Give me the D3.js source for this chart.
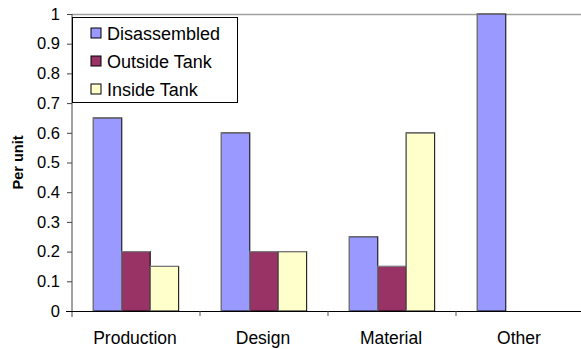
<!DOCTYPE html>
<html>
<head>
<meta charset="utf-8">
<script src="https://cdn.jsdelivr.net/npm/d3@7"></script>
<style>
  html, body { margin: 0; padding: 0; background: #fff; }
  svg { display: block; font-family: "Liberation Sans", Arial, sans-serif; }
</style>
</head>
<body>
<svg id="chart" width="581" height="349"></svg>
<script>
// Per-unit scores by category, one series per row
const categories = ["Production", "Design", "Material", "Other"];
const seriesNames = ["Disassembled", "Outside Tank", "Inside Tank"];
const disassembled = [0.65, 0.6, 0.25, 1.0];
const outsideTank = [0.2, 0.2, 0.15, 0];
const insideTank = [0.15, 0.2, 0.6, 0];
const yTicks = [0, 0.1, 0.2, 0.3, 0.4, 0.5, 0.6, 0.7, 0.8, 0.9, 1];
const seriesColors = ["#9999FF", "#993366", "#FFFFCC"];

const seriesValues = [disassembled, outsideTank, insideTank];

const svg = d3.select("#chart");
const plot = { left: 72, right: 584, top: 14, bottom: 311 };

// one slot per category; the three bars fill 3/4.5 of it (150% gap)
const x = d3.scaleBand()
  .domain(categories)
  .range([plot.left, plot.right])
  .paddingInner(0).paddingOuter(0);
const slot = x.bandwidth();
const barW = slot / 4.5;
const groupOffset = barW * 0.75;
const xs = d3.scaleBand()
  .domain(seriesNames)
  .range([groupOffset, groupOffset + 3 * barW]);

const y = d3.scaleLinear().domain([0, 1]).range([plot.bottom, plot.top]);

// top border of the plot area
svg.append("line")
  .attr("x1", plot.left).attr("x2", 581)
  .attr("y1", plot.top + 0.5).attr("y2", plot.top + 0.5)
  .attr("stroke", "#a0a0a0").attr("stroke-width", 1.5);

// bars
categories.forEach((cat, ci) => {
  seriesValues.forEach((vals, si) => {
    const v = vals[ci];
    if (!v) return;
    const bx = x(cat) + xs(seriesNames[si]);
    const by = y(v);
    const h = y(0) - by;
    svg.append("rect")
      .attr("x", bx).attr("y", by)
      .attr("width", barW).attr("height", h)
      .attr("fill", seriesColors[si])
      .attr("stroke", "#000").attr("stroke-width", 1);
    // soft grey edge on the left and top
    svg.append("path")
      .attr("d", `M${bx},${y(0)}V${by}H${bx + barW}`)
      .attr("fill", "none")
      .attr("stroke", "#7a7a7a").attr("stroke-width", 1.2);
  });
});

// y axis
const yAxis = d3.axisLeft(y)
  .tickValues(yTicks)
  .tickFormat(d => d3.format("")(+d.toFixed(1)))
  .tickSizeInner(5).tickSizeOuter(0).tickPadding(7);
const gy = svg.append("g")
  .attr("transform", `translate(${plot.left},0)`)
  .call(yAxis);
gy.select(".domain").attr("stroke", "#444").attr("d", `M0,${plot.top}V${plot.bottom + 6}`);
gy.selectAll(".tick line").attr("stroke", "#444");
gy.selectAll(".tick text")
  .attr("font-size", 16.5).attr("fill", "#000")
  .attr("font-family", "'Liberation Sans', Arial, sans-serif");

// x axis: category boundaries as ticks, labels centred in each slot
svg.append("line")
  .attr("x1", plot.left - 6).attr("x2", 581)
  .attr("y1", plot.bottom + 0.5).attr("y2", plot.bottom + 0.5)
  .attr("stroke", "#000").attr("stroke-width", 1.2);
categories.slice(1).forEach(cat => {
  const tx = x(cat);
  svg.append("line")
    .attr("x1", tx).attr("x2", tx)
    .attr("y1", plot.bottom).attr("y2", plot.bottom + 5)
    .attr("stroke", "#555");
});
svg.append("g").selectAll("text")
  .data(categories)
  .join("text")
  .attr("x", d => x(d) + slot / 2 - 1)
  .attr("y", 344)
  .attr("text-anchor", "middle")
  .attr("font-size", 17.5)
  .text(d => d);

// y axis title
svg.append("text")
  .attr("transform", `translate(23,${(plot.top + plot.bottom) / 2}) rotate(-90)`)
  .attr("text-anchor", "middle")
  .attr("font-size", 14.5).attr("font-weight", "bold")
  .text("Per unit");

// legend
const lg = svg.append("g");
lg.append("rect")
  .attr("x", 72.5).attr("y", 17.5).attr("width", 165).attr("height", 85)
  .attr("fill", "#fff").attr("stroke", "#000").attr("stroke-width", 1);
seriesNames.forEach((name, i) => {
  const cy = 33 + i * 28;
  lg.append("rect")
    .attr("x", 91).attr("y", cy - 5).attr("width", 10).attr("height", 10)
    .attr("fill", seriesColors[i]).attr("stroke", "#000").attr("stroke-width", 1);
  lg.append("text")
    .attr("x", 107).attr("y", cy + 6.5)
    .attr("font-size", 18)
    .text(name);
});
</script>
</body>
</html>
